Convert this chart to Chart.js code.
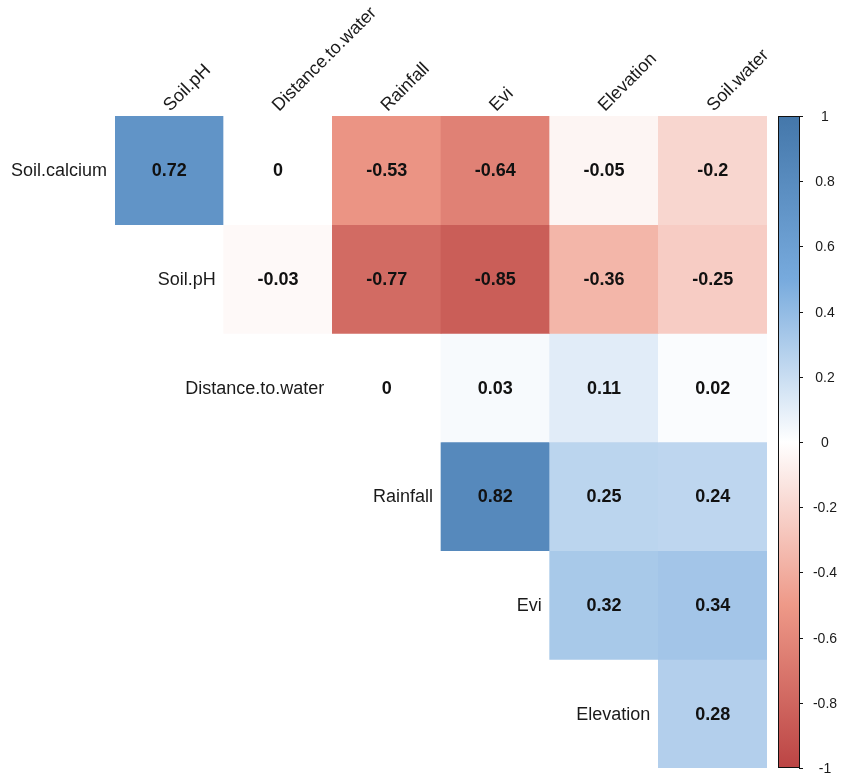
<!DOCTYPE html>
<html>
<head>
<meta charset="utf-8">
<title>Correlation matrix</title>
<script src="https://cdn.jsdelivr.net/npm/chart.js@4.4.1/dist/chart.umd.min.js"></script>
<style>
  html, body { margin: 0; padding: 0; background: #fff; }
  #wrap { width: 843px; height: 777px; position: relative; }
</style>
</head>
<body>
<div id="wrap"><canvas id="corrChart"></canvas></div>
<script>
// variables down the side (rows) and across the top (columns)
const rowNames = ["Soil.calcium", "Soil.pH", "Distance.to.water", "Rainfall", "Evi", "Elevation"];
const colNames = ["Soil.pH", "Distance.to.water", "Rainfall", "Evi", "Elevation", "Soil.water"];

// upper triangle of the correlation matrix, one array per row
const calciumRow  = [0.72, 0, -0.53, -0.64, -0.05, -0.2];
const phRow       = [null, -0.03, -0.77, -0.85, -0.36, -0.25];
const distanceRow = [null, null, 0, 0.03, 0.11, 0.02];
const rainfallRow = [null, null, null, 0.82, 0.25, 0.24];
const eviRow      = [null, null, null, null, 0.32, 0.34];
const elevRow     = [null, null, null, null, null, 0.28];
const corrRows = [calciumRow, phRow, distanceRow, rainfallRow, eviRow, elevRow];

// colour legend ticks
const legendTicks = [1, 0.8, 0.6, 0.4, 0.2, 0, -0.2, -0.4, -0.6, -0.8, -1];

// diverging palette, -1 .. 1
const paletteStops = [-1, -0.5, 0, 0.5, 1];
const paletteColors = ["#BB4444", "#EE9988", "#FFFFFF", "#77AADD", "#4477AA"];

const FONT = '"Liberation Sans", Arial, sans-serif';

function hexToRgb(h) {
  return [parseInt(h.slice(1, 3), 16), parseInt(h.slice(3, 5), 16), parseInt(h.slice(5, 7), 16)];
}

function corrColor(v) {
  for (let k = 0; k < paletteStops.length - 1; k++) {
    if (v <= paletteStops[k + 1]) {
      const t = (v - paletteStops[k]) / (paletteStops[k + 1] - paletteStops[k]);
      const a = hexToRgb(paletteColors[k]), b = hexToRgb(paletteColors[k + 1]);
      const c = a.map((x, i) => Math.round(x + (b[i] - x) * t));
      return `rgb(${c[0]},${c[1]},${c[2]})`;
    }
  }
  return paletteColors[paletteColors.length - 1];
}

// every row is a dataset of floating bars spanning one row of the y axis
const datasets = corrRows.map((row, i) => ({
  label: rowNames[i],
  data: row.map(v => (v === null ? null : [i - 0.5, i + 0.5])),
  backgroundColor: row.map(v => (v === null ? "transparent" : corrColor(v))),
  borderWidth: 0,
  grouped: false,
  categoryPercentage: 1,
  barPercentage: 1
}));

const labelsPlugin = {
  id: "corrLabels",
  afterDatasetsDraw(chart) {
    const { ctx, chartArea, scales } = chart;
    const x = scales.x, y = scales.y, cb = scales.cb;
    ctx.save();

    // values inside the cells
    ctx.fillStyle = "#111";
    ctx.font = `bold 18px ${FONT}`;
    ctx.textAlign = "center";
    ctx.textBaseline = "middle";
    corrRows.forEach((row, i) => {
      row.forEach((v, j) => {
        if (v === null) return;
        ctx.fillText(String(v), x.getPixelForValue(j), y.getPixelForValue(i) + 1);
      });
    });

    // row names, right-aligned next to the diagonal cell
    ctx.font = `18px ${FONT}`;
    ctx.textAlign = "right";
    ctx.fillStyle = "#1a1a1a";
    rowNames.forEach((name, i) => {
      const left = x.getPixelForValue(i) - (x.getPixelForValue(1) - x.getPixelForValue(0)) / 2;
      ctx.fillText(name, left - 8, y.getPixelForValue(i) + 1);
    });

    // column names at 45 degrees above the grid
    ctx.textAlign = "left";
    ctx.textBaseline = "alphabetic";
    colNames.forEach((name, j) => {
      ctx.save();
      ctx.translate(x.getPixelForValue(j) + 1, chartArea.top - 4);
      ctx.rotate(-Math.PI / 4);
      ctx.fillText(name, 0, 0);
      ctx.restore();
    });

    // colour legend
    const barL = chartArea.right + 11, barW = 22;
    const top = cb.getPixelForValue(1), bottom = cb.getPixelForValue(-1);
    const grad = ctx.createLinearGradient(0, bottom, 0, top);
    paletteStops.forEach((s, k) => grad.addColorStop((s + 1) / 2, paletteColors[k]));
    ctx.fillStyle = grad;
    ctx.fillRect(barL, top, barW, bottom - top);
    ctx.strokeStyle = "#111";
    ctx.lineWidth = 1;
    ctx.strokeRect(barL + 0.5, top + 0.5, barW - 1, bottom - top - 1);

    ctx.font = `14px ${FONT}`;
    ctx.fillStyle = "#1a1a1a";
    ctx.textAlign = "center";
    ctx.textBaseline = "middle";
    legendTicks.forEach(t => {
      const py = Math.round(cb.getPixelForValue(t)) + 0.5;
      ctx.beginPath();
      ctx.moveTo(barL + barW - 1, py);
      ctx.lineTo(barL + barW + 3, py);
      ctx.stroke();
      ctx.fillText(String(t), barL + barW + 25, py + 1);
    });

    ctx.restore();
  }
};

new Chart(document.getElementById("corrChart"), {
  type: "bar",
  data: { labels: colNames, datasets },
  options: {
    responsive: true,
    maintainAspectRatio: false,
    animation: false,
    layout: { padding: { left: 115, right: 76, top: 116, bottom: 9 } },
    plugins: { legend: { display: false }, tooltip: { enabled: false } },
    scales: {
      x: { display: false, offset: true },
      y: { display: false, min: -0.5, max: 5.5, reverse: true },
      cb: { display: false, position: "right", min: -1, max: 1 }
    }
  },
  plugins: [labelsPlugin]
});
</script>
</body>
</html>
